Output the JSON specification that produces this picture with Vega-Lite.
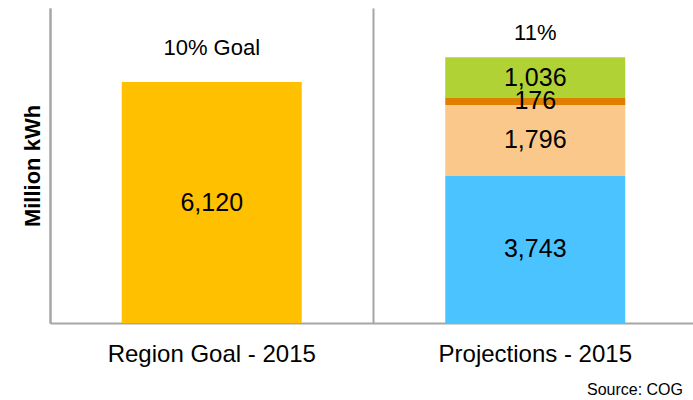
{
  "$schema": "https://vega.github.io/schema/vega-lite/v6.json",
  "width": 647,
  "height": 315,
  "padding": {"left": 50, "top": 8, "right": 0, "bottom": 77},
  "autosize": {"type": "none"},
  "config": {
    "font": "Liberation Sans",
    "view": {"stroke": null}
  },
  "title": {
    "text": "Source: COG",
    "orient": "bottom",
    "anchor": "end",
    "fontSize": 16,
    "fontWeight": "normal",
    "color": "#000000",
    "offset": 16,
    "dx": -14
  },
  "datasets": {
    "bars": [
      {"category": "Region Goal - 2015", "segment": "Goal", "value": 6120, "order": 1},
      {"category": "Projections - 2015", "segment": "Blue", "value": 3743, "order": 1},
      {"category": "Projections - 2015", "segment": "Peach", "value": 1796, "order": 2},
      {"category": "Projections - 2015", "segment": "Orange", "value": 176, "order": 3},
      {"category": "Projections - 2015", "segment": "Green", "value": 1036, "order": 4}
    ],
    "notes": [
      {"category": "Region Goal - 2015", "note": "10% Goal"},
      {"category": "Projections - 2015", "note": "11%"}
    ]
  },
  "encoding": {
    "x": {
      "field": "category",
      "type": "nominal",
      "sort": ["Region Goal - 2015", "Projections - 2015"],
      "scale": {"paddingInner": 0, "paddingOuter": 0},
      "axis": {
        "title": null,
        "labelAngle": 0,
        "labelFontSize": 24,
        "labelLimit": 0,
        "labelColor": "#000000",
        "labelPadding": 19,
        "ticks": false,
        "domainColor": "#a6a6a6",
        "domainWidth": 2,
        "grid": true,
        "bandPosition": 0,
        "gridColor": "#a6a6a6",
        "gridWidth": 2
      }
    }
  },
  "layer": [
    {
      "data": {"name": "bars"},
      "transform": [
        {"stack": "value", "groupby": ["category"], "sort": [{"field": "order"}], "as": ["v0", "v1"]},
        {"calculate": "(datum.v0 + datum.v1) / 2", "as": "mid"}
      ],
      "layer": [
        {
          "mark": {"type": "bar", "width": 180},
          "encoding": {
            "y": {
              "field": "v0",
              "type": "quantitative",
              "scale": {"domain": [0, 8000]},
              "axis": {
                "title": "Million kWh",
                "titleFontSize": 22,
                "titleFontWeight": "bold",
                "titleColor": "#000000",
                "titlePadding": 6,
                "labels": false,
                "ticks": false,
                "grid": false,
                "domainColor": "#a6a6a6",
                "domainWidth": 2
              }
            },
            "y2": {"field": "v1"},
            "color": {
              "field": "segment",
              "type": "nominal",
              "scale": {
                "domain": ["Goal", "Blue", "Peach", "Orange", "Green"],
                "range": ["#FFC000", "#4BC3FF", "#FBC88B", "#E07E00", "#B1D235"]
              },
              "legend": null
            }
          }
        },
        {
          "mark": {"type": "text", "fontSize": 25, "color": "#000000"},
          "encoding": {
            "y": {"field": "mid", "type": "quantitative"},
            "text": {"field": "value", "type": "quantitative", "format": ","}
          }
        }
      ]
    },
    {
      "data": {"name": "notes"},
      "transform": [{"filter": "datum.note === '10% Goal'"}],
      "mark": {"type": "text", "fontSize": 22, "color": "#000000"},
      "encoding": {
        "y": {"datum": 6980},
        "text": {"field": "note"}
      }
    },
    {
      "data": {"name": "notes"},
      "transform": [{"filter": "datum.note === '11%'"}],
      "mark": {"type": "text", "fontSize": 22, "color": "#000000"},
      "encoding": {
        "y": {"datum": 7360},
        "text": {"field": "note"}
      }
    }
  ]
}
